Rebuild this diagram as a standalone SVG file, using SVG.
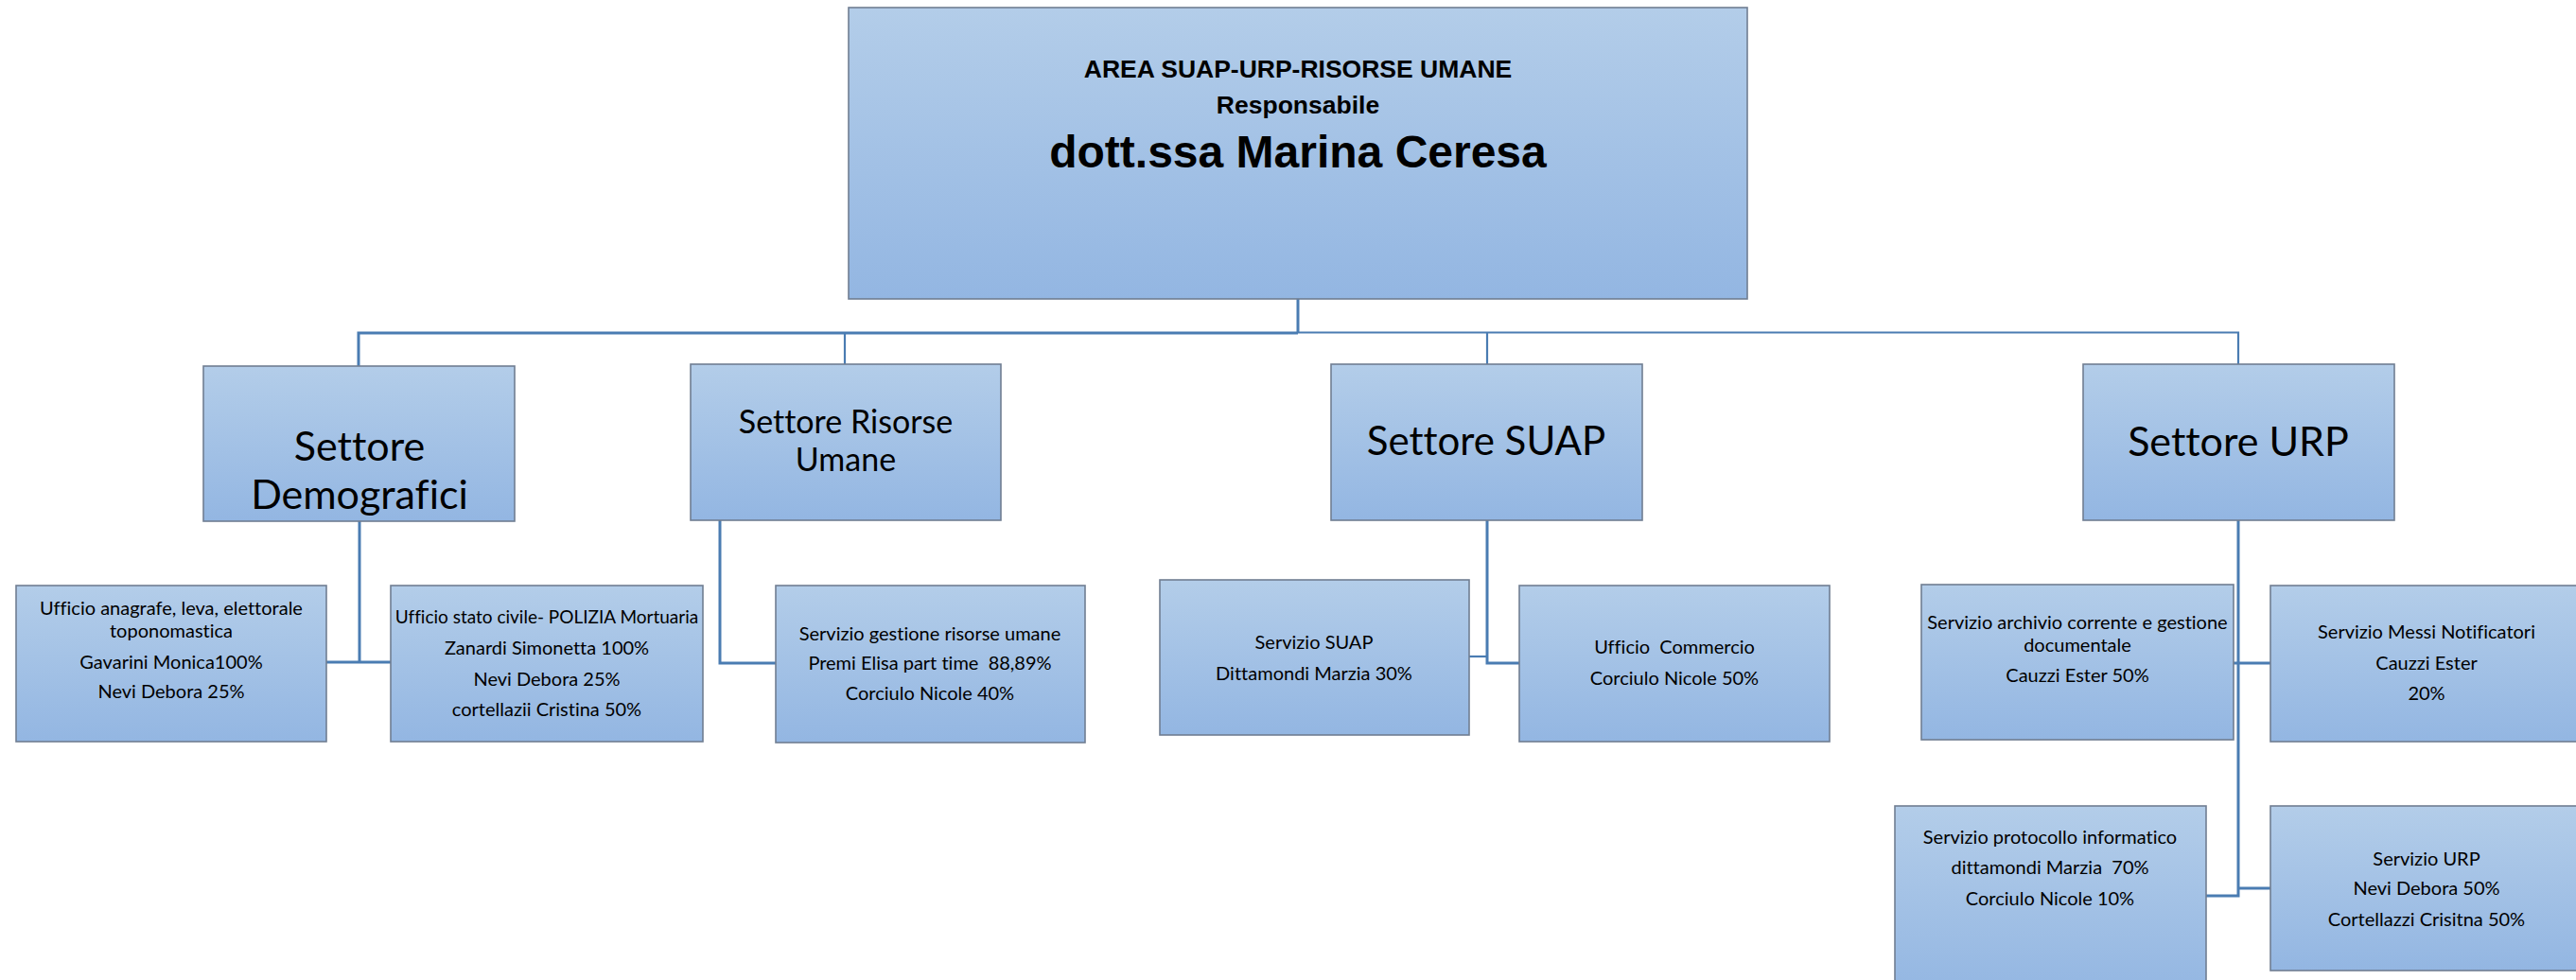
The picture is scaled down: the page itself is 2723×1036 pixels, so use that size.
<svg xmlns="http://www.w3.org/2000/svg" width="2723" height="1036" viewBox="0 0 2723 1036">
<defs>
<linearGradient id="g" x1="0" y1="0" x2="0" y2="1">
<stop offset="0" stop-color="#b3cde9"/>
<stop offset="1" stop-color="#93b6e2"/>
</linearGradient>
<style>
.box{fill:url(#g);stroke:#707e92;stroke-width:1.6}
.t{font-family:Lato,"Open Sans",sans-serif;fill:#000;text-anchor:middle;font-variant-ligatures:none}
.s{font-size:20px}
.h{font-family:"Liberation Sans",Arial,sans-serif;font-weight:bold;fill:#000;text-anchor:middle}
.c{fill:none;stroke:#4a7cb2;stroke-width:3}
.c2{fill:none;stroke:#4a7cb2;stroke-width:2.2}
</style>
</defs>
<rect width="2723" height="1036" fill="#fff"/>
<g id="connectors">
<path class="c" d="M1372,316 V352"/>
<path class="c" d="M379,387 V352 H1372"/>
<path class="c2" d="M1372,351.5 H2366 V385"/>
<path class="c2" d="M893,352 V385"/>
<path class="c2" d="M1572,352 V385"/>
<path class="c" d="M380,551 V700"/>
<path class="c" d="M345,700 H413"/>
<path class="c" d="M761,550 V701 H820"/>
<path class="c" d="M1572,550 V701 H1606"/>
<path class="c2" d="M1553,694 H1572"/>
<path class="c" d="M2366,550 V947 H2332"/>
<path class="c" d="M2361,701 H2400"/>
<path class="c" d="M2366,939 H2400"/>
</g>
<g id="top">
<rect class="box" x="897" y="8" width="950" height="308"/>
<text class="h" x="1372" y="82" font-size="26.5">AREA SUAP-URP-RISORSE UMANE</text>
<text class="h" x="1372" y="120" font-size="26.5">Responsabile</text>
<text class="h" x="1372" y="177" font-size="48">dott.ssa Marina Ceresa</text>
</g>
<g id="settore-demografici">
<rect class="box" x="215" y="387" width="329" height="164"/>
<text class="t" x="380" y="487" font-size="43">Settore</text>
<text class="t" x="380" y="538" font-size="43">Demografici</text>
</g>
<g id="settore-risorse-umane">
<rect class="box" x="730" y="385" width="328" height="165"/>
<text class="t" x="894" y="458" font-size="34">Settore Risorse</text>
<text class="t" x="894" y="498" font-size="34">Umane</text>
</g>
<g id="settore-suap">
<rect class="box" x="1407" y="385" width="329" height="165"/>
<text class="t" x="1571" y="481" font-size="42">Settore SUAP</text>
</g>
<g id="settore-urp">
<rect class="box" x="2202" y="385" width="329" height="165"/>
<text class="t" x="2366" y="482" font-size="43">Settore URP</text>
</g>
<g id="ufficio-anagrafe">
<rect class="box" x="17" y="619" width="328" height="165"/>
<text class="t s" x="181" y="650">Ufficio anagrafe, leva, elettorale</text>
<text class="t s" x="181" y="674">toponomastica</text>
<text class="t s" x="181" y="707">Gavarini Monica100%</text>
<text class="t s" x="181" y="738">Nevi Debora 25%</text>
</g>
<g id="ufficio-stato-civile">
<rect class="box" x="413" y="619" width="330" height="165"/>
<text class="t" x="578" y="659" font-size="19">Ufficio stato civile- POLIZIA Mortuaria</text>
<text class="t s" x="578" y="692">Zanardi Simonetta 100%</text>
<text class="t s" x="578" y="725">Nevi Debora 25%</text>
<text class="t s" x="578" y="757">cortellazii Cristina 50%</text>
</g>
<g id="servizio-gestione-ru">
<rect class="box" x="820" y="619" width="327" height="166"/>
<text class="t s" x="983" y="677">Servizio gestione risorse umane</text>
<text class="t s" x="983" y="708" xml:space="preserve">Premi Elisa part time  88,89%</text>
<text class="t s" x="983" y="740">Corciulo Nicole 40%</text>
</g>
<g id="servizio-suap">
<rect class="box" x="1226" y="613" width="327" height="164"/>
<text class="t s" x="1389" y="686">Servizio SUAP</text>
<text class="t s" x="1389" y="719">Dittamondi Marzia 30%</text>
</g>
<g id="ufficio-commercio">
<rect class="box" x="1606" y="619" width="328" height="165"/>
<text class="t s" x="1770" y="691" xml:space="preserve">Ufficio  Commercio</text>
<text class="t s" x="1770" y="724">Corciulo Nicole 50%</text>
</g>
<g id="servizio-archivio">
<rect class="box" x="2031" y="618" width="330" height="164"/>
<text class="t s" x="2196" y="665">Servizio archivio corrente e gestione</text>
<text class="t s" x="2196" y="689">documentale</text>
<text class="t s" x="2196" y="721">Cauzzi Ester 50%</text>
</g>
<g id="servizio-messi">
<rect class="box" x="2400" y="619" width="330" height="165"/>
<text class="t s" x="2565" y="675">Servizio Messi Notificatori</text>
<text class="t s" x="2565" y="708">Cauzzi Ester</text>
<text class="t s" x="2565" y="740">20%</text>
</g>
<g id="servizio-protocollo">
<rect class="box" x="2003" y="852" width="329" height="200"/>
<text class="t s" x="2167" y="892">Servizio protocollo informatico</text>
<text class="t s" x="2167" y="924" xml:space="preserve">dittamondi Marzia  70%</text>
<text class="t s" x="2167" y="957">Corciulo Nicole 10%</text>
</g>
<g id="servizio-urp">
<rect class="box" x="2400" y="852" width="330" height="174"/>
<text class="t s" x="2565" y="915">Servizio URP</text>
<text class="t s" x="2565" y="946">Nevi Debora 50%</text>
<text class="t s" x="2565" y="979">Cortellazzi Crisitna 50%</text>
</g>
</svg>
